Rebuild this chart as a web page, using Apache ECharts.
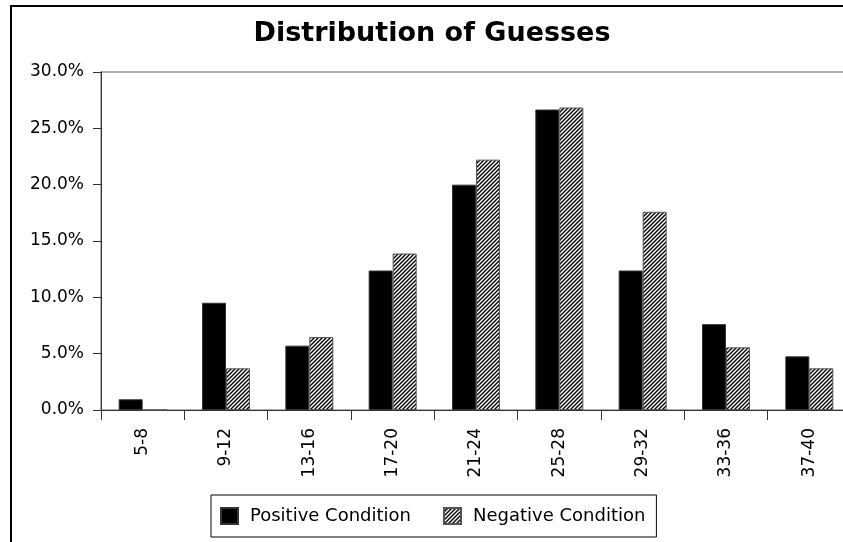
<!DOCTYPE html>
<html>
<head>
<meta charset="utf-8">
<script src="https://cdn.jsdelivr.net/npm/echarts@6/dist/echarts.min.js"></script>
<style>
  html, body { margin: 0; padding: 0; background: #fff; overflow: hidden; }
  #chart { width: 843px; height: 542px; }
</style>
</head>
<body>
<div id="chart"></div>
<script>
const categories = ['5-8', '9-12', '13-16', '17-20', '21-24', '25-28', '29-32', '33-36', '37-40']
// percent of guesses in each range
const positive = [0.95, 9.52, 5.71, 12.38, 20.0, 26.67, 12.38, 7.62, 4.76]
const negative = [0, 3.7, 6.48, 13.89, 22.22, 26.85, 17.59, 5.56, 3.7]
const yTicks = [0, 5, 10, 15, 20, 25, 30]

const font = 'DejaVu Sans'

// diagonal hatch for the negative series
function hatch() {
  const c = document.createElement('canvas')
  c.width = 4
  c.height = 4
  const ctx = c.getContext('2d')
  ctx.fillStyle = '#fff'
  ctx.fillRect(0, 0, 4, 4)
  ctx.strokeStyle = '#000'
  ctx.lineWidth = 1.4
  ctx.beginPath()
  ctx.moveTo(-1, 5); ctx.lineTo(5, -1)
  ctx.moveTo(-1, 1); ctx.lineTo(1, -1)
  ctx.moveTo(3, 5); ctx.lineTo(5, 3)
  ctx.stroke()
  return c
}
const hatchFill = { image: hatch(), repeat: 'repeat' }

const chart = echarts.init(document.getElementById('chart'))
chart.setOption({
  animation: false,
  textStyle: { fontFamily: font },
  // outer frame, only its top and left edges fall inside the picture
  graphic: [
    {
      type: 'line',
      shape: { x1: 10, y1: 6, x2: 843, y2: 6 },
      style: { stroke: '#000', lineWidth: 2 },
      silent: true,
    },
    {
      type: 'line',
      shape: { x1: 11, y1: 5, x2: 11, y2: 542 },
      style: { stroke: '#000', lineWidth: 2 },
      silent: true,
    },
  ],
  title: {
    text: 'Distribution of Guesses',
    left: 427,
    textAlign: 'center',
    top: 15,
    textStyle: { fontFamily: font, fontSize: 27, fontWeight: 'bold', color: '#000' },
  },
  legend: {
    left: 211,
    top: 495,
    padding: [12, 11, 12, 9],
    itemGap: 32,
    itemWidth: 17,
    itemHeight: 16,
    icon: 'rect',
    borderColor: '#000',
    borderWidth: 1,
    textStyle: { fontFamily: font, fontSize: 18, color: '#000', padding: [0, 0, 0, 7] },
    data: ['Positive Condition', 'Negative Condition'],
  },
  grid: {
    left: 101,
    top: 72,
    width: 750,
    bottom: 132,
    show: true,
    borderColor: '#999',
    borderWidth: 1.5,
    containLabel: false,
    outerBoundsMode: 'none',
  },
  xAxis: {
    type: 'category',
    data: categories,
    axisLine: { lineStyle: { color: '#333', width: 1 } },
    axisTick: { show: true, length: 10, lineStyle: { color: '#333' } },
    axisLabel: { rotate: 90, margin: 18, fontSize: 17, color: '#000', fontFamily: font },
    splitLine: { show: false },
  },
  yAxis: {
    type: 'value',
    min: yTicks[0],
    max: yTicks[yTicks.length - 1],
    interval: 5,
    axisLine: { show: true, lineStyle: { color: '#333', width: 1 } },
    axisTick: { show: true, length: 8, lineStyle: { color: '#333' } },
    axisLabel: {
      margin: 17,
      fontSize: 17,
      color: '#000',
      fontFamily: font,
      formatter: (v) => v.toFixed(1) + '%',
    },
    splitLine: { show: false },
  },
  series: [
    {
      name: 'Positive Condition',
      type: 'bar',
      data: positive,
      barWidth: 24,
      barGap: '0%',
      itemStyle: { color: '#000', borderColor: '#333', borderWidth: 1 },
    },
    {
      name: 'Negative Condition',
      type: 'bar',
      data: negative,
      barWidth: 24,
      barGap: '0%',
      itemStyle: { color: hatchFill, borderColor: '#555', borderWidth: 1 },
    },
  ],
})
</script>
</body>
</html>
